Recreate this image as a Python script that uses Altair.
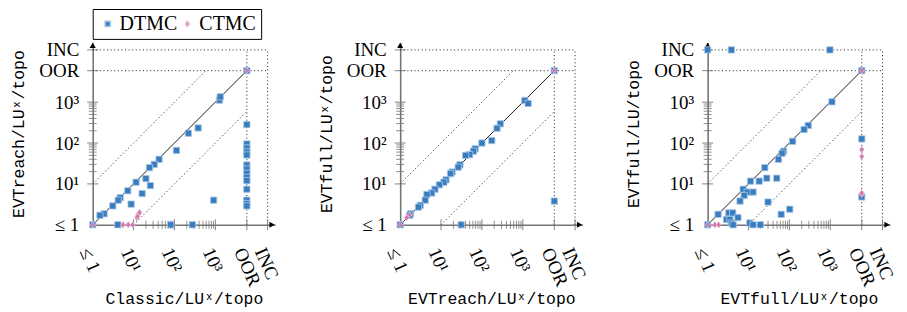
import json
import altair as alt
import pandas as pd

# ---- constants (sentinel positions on the log axes) ----
OOR = 5900
INC = 19000
AXMAX = 29000

tick_vals = [1, 10, 100, 1000, OOR, INC]
tick_labels = ["≤ 1", "10¹", "10²", "10³", "OOR", "INC"]
minor_vals = [20, 30, 40, 50, 60, 70, 80, 90, 200, 300, 400, 500, 600, 700, 800, 900]
major_vals = [10, 100, 1000, OOR, INC]

types = ["DTMC", "CTMC"]
BLUE, PINK = "#3a7dbf", "#cf78aa"
LBLUE, LPINK = "#a8c8e8", "#e8b8d3"
GRAY = "#757575"
DIAMOND = "M0,-1L0.72,0L0,1L-0.72,0Z"

# ---- panel 1: Classic vs EVTreach ----
p1_dtmc_x = [1260, 1320, 219, 380, OOR, 112, 42, 32, 24.5, 20, 25.7, 11.5, 16.2, 7.2, 4.7, 4.2, 3.1, 8.7,
             1.9, 1.5, 1, 4.1, 81, 275, 910,
             OOR, OOR, OOR, OOR, OOR, OOR, OOR, OOR, OOR, OOR, OOR, OOR, OOR, OOR]
p1_dtmc_y = [1120, 1350, 174, 234, 282, 66, 40, 30, 25, 13.5, 9.1, 11, 5.8, 6.8, 4.6, 4.0, 2.9, 3.2,
             1.86, 1.7, 1, 1, 1, 1, 4.0,
             95, 76, 60, 51, 29, 23, 18, 14.5, 12, 7.4, 4.0, 3.3, 2.9, OOR]
p1_ctmc_x = [1, 5.5, 7.4, 9.5, 12, 13, 14, 12.5, OOR]
p1_ctmc_y = [1, 1, 1, 1, 1.5, 1.8, 2.0, 1.6, OOR]

# ---- panel 2: EVTreach vs EVTfull ----
p2_dtmc_x = [1120, 1350, 282, 234, 174, 100, 68, 62, 50, 40, 29, 26.3, 18.6, 17, 13.2, 11.7, 9.1, 7.1,
             5.9, 4.5, 4.1, 3.1, 2.8, 1.8, 1.7, 1, 31, OOR, OOR]
p2_dtmc_y = [1100, 930, 295, 229, 115, 100, 72, 63, 52, 50, 29.5, 25.7, 19.5, 17.8, 12.6, 11, 9.5, 7.4,
             6.0, 5.5, 4.0, 3.0, 2.7, 1.86, 1.7, 1, 1, 3.8, OOR]
p2_ctmc_x = [1, 1.45, 1.7, OOR]
p2_ctmc_y = [1, 1.5, 1.75, OOR]

# ---- panel 3: EVTfull/LU^x vs EVTfull/LU ----
p3_dtmc_x = [1, 3.8, 980, 1100, 288, 229, 120, 72, 66, 54, 25, 49, 28, 18.2, 11.2, 7.4, 9.3, 12.9, 7.8,
             6.2, 30, 102, 63, 1.8, 3.3, 4.1, 2.9, 3.5, 5.5, 3.8, 4.2, 10.7, 12.9, 19.5, 1, OOR, OOR, OOR]
p3_dtmc_y = [INC, INC, INC, 1020, 269, 214, 110, 63, 56, 40, 25, 13.8, 13.8, 11.7, 11.7, 7.4, 6.3, 6.3, 5.2,
             3.8, 3.6, 2.4, 1.8, 1.8, 1.95, 1.95, 1.35, 1.35, 1.5, 1.1, 1, 1.1, 1, 1, 1, 126, 4.8, OOR]
p3_ctmc_x = [1, 1.5, 1.85, OOR, OOR, OOR, OOR, OOR]
p3_ctmc_y = [1, 1, 1, 69, 47, 5.5, 6.0, OOR]

W = H = 183
label_expr = "%s[indexof(%s, datum.value)]" % (
    json.dumps(tick_labels, ensure_ascii=False), json.dumps(tick_vals))

SERIF = "Liberation Serif"
MONO = "Liberation Mono"
TICKFS = 19


def panel(dx, dy, cx, cy, xtitle, ytitle, show_legend):
    xs = alt.Scale(type="log", domain=[1, AXMAX], nice=False)
    ys = alt.Scale(type="log", domain=[1, AXMAX], nice=False)

    xaxis = alt.Axis(values=tick_vals, labelExpr=label_expr, ticks=False, grid=False,
                     domainColor=GRAY, domainWidth=1.6, labelAngle=66, labelAlign="left",
                     labelBaseline="top", labelPadding=20, labelFont=SERIF, labelFontSize=TICKFS,
                     labelColor="black", labelOverlap=False, labelFlush=False,
                     title=xtitle, titleFont=MONO, titleFontSize=16.5, titleFontWeight="normal",
                     titleColor="black", titleY=78.5, titleBaseline="alphabetic")
    yaxis = alt.Axis(values=tick_vals, labelExpr=label_expr, ticks=False, grid=False,
                     domainColor=GRAY, domainWidth=1.6, labelPadding=14, labelFont=SERIF,
                     labelFontSize=TICKFS, labelColor="black", labelOverlap=False, labelFlush=False,
                     title=ytitle, titleFont=MONO, titleFontSize=16.5, titleFontWeight="normal",
                     titleColor="black", titleX=-74, titleBaseline="middle")

    def X(f):
        return alt.X(f, scale=xs, axis=xaxis)

    def Y(f):
        return alt.Y(f, scale=ys, axis=yaxis)

    pts = pd.DataFrame({
        "x": dx + cx, "y": dy + cy,
        "type": ["DTMC"] * len(dx) + ["CTMC"] * len(cx),
    })

    ref = pd.DataFrame({
        "x":  [1, 1, 10, 1, 1, OOR, INC],
        "y":  [1, 10, 1, OOR, INC, 1, 1],
        "x2": [OOR, OOR / 10, OOR, INC, INC, OOR, INC],
        "y2": [OOR, OOR, OOR / 10, OOR, INC, INC, INC],
    })
    solid = alt.Chart(ref.iloc[:1]).mark_rule(color="black", strokeWidth=0.9).encode(
        x=X("x:Q"), y=Y("y:Q"), x2="x2:Q", y2="y2:Q")
    dotted = alt.Chart(ref.iloc[1:]).mark_rule(color="black", strokeWidth=0.9, strokeDash=[1, 2.6]).encode(
        x=X("x:Q"), y=Y("y:Q"), x2="x2:Q", y2="y2:Q")

    mdf = pd.DataFrame({"v": minor_vals})
    Mdf = pd.DataFrame({"v": major_vals})
    xminor = alt.Chart(mdf).mark_rule(color=GRAY, strokeWidth=0.8).encode(
        x=X("v:Q"), y=alt.value(H - 4), y2=alt.value(H + 4))
    yminor = alt.Chart(mdf).mark_rule(color=GRAY, strokeWidth=0.8).encode(
        y=Y("v:Q"), x=alt.value(-4), x2=alt.value(4))
    xmajor = alt.Chart(Mdf).mark_rule(color=GRAY, strokeWidth=0.9).encode(
        x=X("v:Q"), y=alt.value(H - 5.5), y2=alt.value(H + 5.5))
    ymajor = alt.Chart(Mdf).mark_rule(color=GRAY, strokeWidth=0.9).encode(
        y=Y("v:Q"), x=alt.value(-5.5), x2=alt.value(5.5))

    arr_r = alt.Chart(pd.DataFrame({"x": [AXMAX], "y": [1]})).mark_point(
        shape="triangle-right", filled=True, color="black", size=38, opacity=1, xOffset=-3).encode(
        x=X("x:Q"), y=Y("y:Q"))
    arr_u = alt.Chart(pd.DataFrame({"x": [1], "y": [AXMAX]})).mark_point(
        shape="triangle-up", filled=True, color="black", size=38, opacity=1, yOffset=3).encode(
        x=X("x:Q"), y=Y("y:Q"))

    if show_legend:
        leg = alt.Legend(orient="none", legendX=0, legendY=-33.5, direction="horizontal", title=None,
                         labelFont=SERIF, labelFontSize=20, labelColor="black", symbolSize=28,
                         strokeColor="black", padding=5, labelOffset=2, columnPadding=0,
                         fillColor="white")
    else:
        leg = None

    points = alt.Chart(pts).mark_point(filled=True, opacity=1, size=40, strokeWidth=0.8).encode(
        x=X("x:Q"),
        y=Y("y:Q"),
        color=alt.Color("type:N", scale=alt.Scale(domain=types, range=[BLUE, PINK]), legend=leg),
        shape=alt.Shape("type:N", scale=alt.Scale(domain=types, range=["square", DIAMOND]), legend=leg),
        stroke=alt.Stroke("type:N", scale=alt.Scale(domain=types, range=[LBLUE, LPINK]), legend=None),
    )

    return alt.layer(dotted, solid, xminor, yminor, xmajor, ymajor, arr_r, arr_u, points).properties(
        width=W, height=H)


c1 = panel(p1_dtmc_x, p1_dtmc_y, p1_ctmc_x, p1_ctmc_y, "Classic/LUˣ/topo", "EVTreach/LUˣ/topo", True)
c2 = panel(p2_dtmc_x, p2_dtmc_y, p2_ctmc_x, p2_ctmc_y, "EVTreach/LUˣ/topo", "EVTfull/LUˣ/topo", False)
c3 = panel(p3_dtmc_x, p3_dtmc_y, p3_ctmc_x, p3_ctmc_y, "EVTfull/LUˣ/topo", "EVTfull/LU/topo", False)

chart = alt.hconcat(c1, c2, c3, spacing=125.5, bounds="flush").resolve_scale(
    color="independent", shape="independent", stroke="independent"
).properties(
    padding={"left": 2, "top": 0, "right": 3, "bottom": 4}
).configure_view(stroke=None)

chart.save("out.html", embed_options={"renderer": "svg", "actions": False})
